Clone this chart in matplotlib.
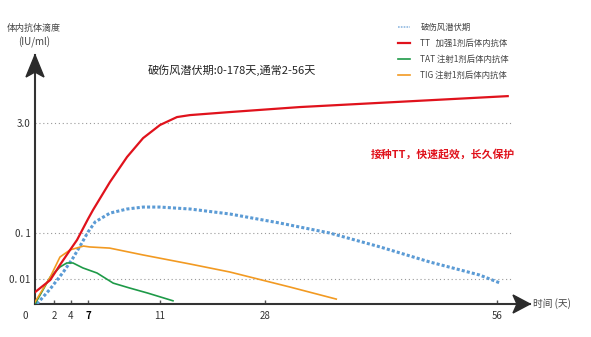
import numpy as np
import matplotlib
matplotlib.use("Agg")
import matplotlib.pyplot as plt
from matplotlib.patches import Polygon

plt.rcParams["font.family"] = ["Noto Sans CJK SC", "DejaVu Sans"]

# values (days, IU/ml)
tt_days = [0, 1.6, 2.7, 3.9, 5.06, 7.0, 7.28, 8.22, 9.17, 10.06, 11, 13.75, 15.85, 22.3, 32.2, 57.3]
tt_vals = [0.0053, 0.0095, 0.0202, 0.043, 0.0705, 0.154, 0.204, 0.484, 1.05, 1.88, 2.82, 3.54, 3.74, 4.07, 4.68, 6.35]

inc_days = [0.2, 1.6, 3.1, 4.35, 5.6, 7.0, 7.4, 8.22, 9.17, 10.06, 11, 15.85, 22.3, 29.8, 35.8, 41.9, 47.9, 53.9, 56.4]
inc_vals = [0.003, 0.0062, 0.0142, 0.0286, 0.052, 0.103, 0.141, 0.185, 0.21, 0.223, 0.223, 0.21, 0.18, 0.136, 0.1, 0.0497, 0.0234, 0.0122, 0.0082]

tig_days = [0, 0.5, 1.6, 2.7, 3.9, 6.2, 7.1, 8.2, 10.06, 15.85, 22.3, 31, 36.6]
tig_vals = [0.0033, 0.0048, 0.011, 0.030, 0.043, 0.052, 0.0497, 0.047, 0.0333, 0.0212, 0.0142, 0.0068, 0.0038]

tat_days = [0, 1.6, 2.7, 3.5, 4.35, 6.1, 7.5, 8.4, 9.3, 10.3, 13.1]
tat_vals = [0.003, 0.011, 0.0182, 0.0223, 0.0223, 0.0174, 0.0135, 0.0082, 0.0065, 0.0051, 0.0035]

x_ticks = [2, 4, 7, 11, 28, 56]
y_ticks = [0.01, 0.1, 3.0]
y_ticklabels = ["0. 01", "0. 1", "3.0"]

legend_labels = ["破伤风潜伏期", "TT   加强1剂后体内抗体", "TAT 注射1剂后体内抗体", "TIG 注射1剂后体内抗体"]

# the axes in the original are neither linear nor log, so use break points
X_BREAKS = [0, 2, 4, 7, 11, 28, 56, 60]
X_POS = [0, 19, 36, 53, 125, 230, 462, 495]
Y_BREAKS = list(np.log10([0.003, 0.01, 0.1, 3.0, 20]))
Y_POS = [0, 25, 71, 181, 249]


def x_fwd(x):
    return np.interp(x, X_BREAKS, X_POS)


def x_inv(p):
    return np.interp(p, X_POS, X_BREAKS)


def y_fwd(v):
    return np.interp(np.log10(np.clip(v, 1e-6, None)), Y_BREAKS, Y_POS)


def y_inv(p):
    return 10 ** np.interp(p, Y_POS, Y_BREAKS)


W, H = 591, 337
fig = plt.figure(figsize=(W / 100, H / 100), dpi=100)
ax = fig.add_axes([35 / W, 33 / H, 495 / W, 249 / H])
ax.set_xscale("function", functions=(x_fwd, x_inv))
ax.set_yscale("function", functions=(y_fwd, y_inv))
ax.set_xlim(0, 60)
ax.set_ylim(0.003, 20)

for yv in y_ticks:
    ax.plot([0, 57.8], [yv, yv], color="#999999", lw=0.8, ls=(0, (1, 2.5)), zorder=1)

l_inc, = ax.plot(inc_days, inc_vals, color="#5b9bd5", lw=2.2, ls=(0, (1, 0.7)), zorder=3)
l_tt, = ax.plot(tt_days, tt_vals, color="#e0121c", lw=1.6, zorder=4)
l_tat, = ax.plot(tat_days, tat_vals, color="#1e9a48", lw=1.2, zorder=3)
l_tig, = ax.plot(tig_days, tig_vals, color="#f29a22", lw=1.2, zorder=3)

for s in ["top", "right"]:
    ax.spines[s].set_visible(False)
for s in ["left", "bottom"]:
    ax.spines[s].set_color("#333333")
    ax.spines[s].set_linewidth(1.5)

ax.set_xticks(x_ticks)
ax.set_xticklabels([str(t) for t in x_ticks])
ax.set_yticks(y_ticks)
ax.set_yticklabels(y_ticklabels)
ax.minorticks_off()
ax.tick_params(axis="x", direction="in", length=3, width=1, color="#555555",
               labelsize=7, labelcolor="#333333", pad=5)
ax.tick_params(axis="y", length=0, labelsize=7, labelcolor="#333333", pad=3)
for lab in ax.get_xticklabels():
    if lab.get_text() == "7":
        lab.set_color("black")
        lab.set_fontweight("bold")

# arrow heads on the axes (axes fraction)
aw, ah = 495.0, 249.0
up = [(0, 1), (-9 / aw, 1 - 22 / ah), (0, 1 - 17 / ah), (9 / aw, 1 - 22 / ah)]
right = [(1, 0), (1 - 17 / aw, 9 / ah), (1 - 13 / aw, 0), (1 - 17 / aw, -9 / ah)]
for pts in (up, right):
    ax.add_patch(Polygon(pts, closed=True, transform=ax.transAxes, color="#2b2b2b",
                         clip_on=False, zorder=5))

fig.text(25 / W, 1 - 316 / H, "0", fontsize=7, color="#333333", ha="center", va="center")
fig.text(533 / W, 1 - 304 / H, "时间 (天)", fontsize=7, color="#444444", ha="left", va="center")
fig.text(34 / W, 1 - 28 / H, "体内抗体滴度", fontsize=6.5, color="#444444", ha="center", va="center")
fig.text(34 / W, 1 - 42 / H, "(IU/ml)", fontsize=7, color="#444444", ha="center", va="center")
fig.text(232 / W, 1 - 70 / H, "破伤风潜伏期:0-178天,通常2-56天", fontsize=8,
         color="#222222", ha="center", va="center")
fig.text(443 / W, 1 - 154 / H, "接种TT，快速起效，长久保护", fontsize=7.8,
         color="#e0121c", fontweight="bold", ha="center", va="center")

leg = ax.legend([l_inc, l_tt, l_tat, l_tig], legend_labels, loc="upper left",
                bbox_to_anchor=(398 / W, 1 - 23 / H), bbox_transform=fig.transFigure,
                frameon=False, fontsize=6, handlelength=1.5, handletextpad=1.2,
                labelspacing=0.85, borderpad=0, borderaxespad=0)
leg.legend_handles[0].set_linewidth(1.2)
leg.legend_handles[0].set_color("#8fb8e0")
for t in leg.get_texts():
    t.set_color("#444444")

fig.savefig("out.png", dpi=100)
